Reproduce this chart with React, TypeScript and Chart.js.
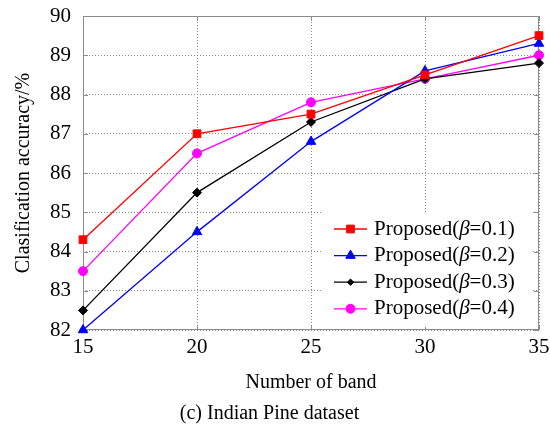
import React, { useEffect, useRef } from "react";
import { Chart, registerables } from "chart.js";
Chart.register(...registerables);

const bands = [15, 20, 25, 30, 35];
const beta01 = [84.3, 87.0, 87.5, 88.5, 89.5];
const beta02 = [82.0, 84.5, 86.8, 88.6, 89.3];
const beta03 = [82.5, 85.5, 87.3, 88.4, 88.8];
const beta04 = [83.5, 86.5, 87.8, 88.4, 89.0];
const betaValues = ["0.1", "0.2", "0.3", "0.4"];
const seriesColors = ["#ff0000", "#0000ff", "#000000", "#ff00ff"];
const seriesMarkers = ["rect", "triangle", "rectRot", "circle"];
const seriesRadius = [5.5, 5.5, 4.5, 4.5];
const xTitle = "Number of band";
const yTitle = "Clasification accuracy/%";
const caption = "(c) Indian Pine dataset";

const FONT = "'Liberation Serif', 'Times New Roman', serif";
const AXIS_GRAY = "#8c8c8c";

const frameAndTicks = {
  id: "frameAndTicks",
  beforeDatasetsDraw(chart: any) {
    const { ctx, chartArea: a, scales } = chart;
    ctx.save();
    ctx.strokeStyle = AXIS_GRAY;
    ctx.lineWidth = 1;
    ctx.setLineDash([]);
    ctx.strokeRect(a.left + 0.5, a.top + 0.5, a.right - a.left - 1, a.bottom - a.top - 1);
    const len = 5;
    ctx.beginPath();
    scales.y.ticks.forEach((t: any) => {
      const y = Math.round(scales.y.getPixelForValue(t.value)) + 0.5;
      ctx.moveTo(a.left, y); ctx.lineTo(a.left + len, y);
      ctx.moveTo(a.right, y); ctx.lineTo(a.right - len, y);
    });
    scales.x.ticks.forEach((t: any) => {
      const x = Math.round(scales.x.getPixelForValue(t.value)) + 0.5;
      ctx.moveTo(x, a.bottom); ctx.lineTo(x, a.bottom - len);
      ctx.moveTo(x, a.top); ctx.lineTo(x, a.top + len);
    });
    ctx.stroke();
    ctx.restore();
  },
};

function drawMarker(ctx: CanvasRenderingContext2D, style: string, r: number, x: number, y: number) {
  ctx.beginPath();
  if (style === "rect") {
    const s = r * Math.SQRT1_2;
    ctx.rect(x - s, y - s, 2 * s, 2 * s);
  } else if (style === "rectRot") {
    const s = r * Math.SQRT1_2;
    ctx.moveTo(x - s, y); ctx.lineTo(x, y + s); ctx.lineTo(x + s, y); ctx.lineTo(x, y - s); ctx.closePath();
  } else if (style === "triangle") {
    const a1 = (2 * Math.PI) / 3;
    ctx.moveTo(x, y - r);
    ctx.lineTo(x + Math.sin(a1) * r, y - Math.cos(a1) * r);
    ctx.lineTo(x + Math.sin(2 * a1) * r, y - Math.cos(2 * a1) * r);
    ctx.closePath();
  } else {
    ctx.arc(x, y, r, 0, Math.PI * 2);
  }
  ctx.fill();
  ctx.stroke();
}

const insideLegend = {
  id: "insideLegend",
  afterDatasetsDraw(chart: any) {
    const { ctx, chartArea: a } = chart;
    ctx.save();
    ctx.fillStyle = "#ffffff";
    ctx.fillRect(a.right - 216, a.bottom - 118, 210, 115);
    const x0 = a.right - 205;
    const lineW = 33;
    const tx = a.right - 165;
    const rowH = 26.6;
    const y0 = a.bottom - 101;
    chart.data.datasets.forEach((ds: any, i: number) => {
      const y = y0 + i * rowH;
      ctx.strokeStyle = ds.borderColor;
      ctx.lineWidth = 1.3;
      ctx.beginPath();
      ctx.moveTo(x0, y);
      ctx.lineTo(x0 + lineW, y);
      ctx.stroke();
      ctx.fillStyle = ds.borderColor;
      ctx.lineWidth = 1;
      drawMarker(ctx, ds.pointStyle, ds.pointRadius, x0 + lineW / 2, y);
      ctx.fillStyle = "#000";
      ctx.textBaseline = "middle";
      ctx.textAlign = "left";
      let x = tx;
      const parts: [string, string][] = [
        ["Proposed(", "normal"],
        ["\u03B2", "italic"],
        ["=" + betaValues[i] + ")", "normal"],
      ];
      parts.forEach(([s, st]) => {
        ctx.font = `${st} 21px ${FONT}`;
        ctx.fillText(s, x, y);
        x += ctx.measureText(s).width;
      });
    });
    ctx.restore();
  },
};

export default function App() {
  const ref = useRef<HTMLCanvasElement>(null);
  useEffect(() => {
    const series = [beta01, beta02, beta03, beta04];
    const chart = new Chart(ref.current!, {
      type: "line",
      data: {
        datasets: series.map((vals, i) => ({
          label: `Proposed(\u03B2=${betaValues[i]})`,
          data: bands.map((b, j) => ({ x: b, y: vals[j] })),
          borderColor: seriesColors[i],
          backgroundColor: seriesColors[i],
          borderWidth: 1.3,
          pointStyle: seriesMarkers[i] as any,
          pointRadius: seriesRadius[i],
          pointBorderWidth: 1,
          tension: 0,
          clip: false as any,
        })),
      },
      options: {
        animation: false,
        responsive: false,
        layout: { padding: { top: 16, right: 11, left: 0, bottom: 0 } },
        plugins: {
          legend: { display: false },
          tooltip: { enabled: false },
          title: {
            display: true,
            position: "bottom",
            text: caption,
            color: "#000",
            font: { family: FONT, size: 20, weight: "normal" },
            padding: { top: 4, bottom: 3 },
          },
        },
        scales: {
          x: {
            type: "linear",
            min: 15,
            max: 35,
            afterFit: (s: any) => {
              s.height = 68;
              s.paddingLeft = 0;
              s.paddingRight = 0;
            },
            ticks: { stepSize: 5, color: "#000", padding: 5, font: { family: FONT, size: 21 } },
            grid: { color: "#8a8a8a", drawTicks: false, lineWidth: 1 },
            border: { display: false, dash: [1, 2] },
            title: {
              display: true,
              text: xTitle,
              color: "#000",
              font: { family: FONT, size: 20 },
              padding: { top: 0, bottom: 3 },
            },
          },
          y: {
            min: 82,
            max: 90,
            afterFit: (s: any) => {
              s.width = 83;
              s.paddingTop = 0;
              s.paddingBottom = 0;
            },
            ticks: { stepSize: 1, color: "#000", padding: 12, font: { family: FONT, size: 21 } },
            grid: { color: "#8a8a8a", drawTicks: false, lineWidth: 1 },
            border: { display: false, dash: [1, 2] },
            title: {
              display: true,
              text: yTitle,
              color: "#000",
              font: { family: FONT, size: 20 },
              padding: { top: 12, bottom: 0 },
            },
          },
        },
      },
      plugins: [frameAndTicks, insideLegend],
    });
    return () => chart.destroy();
  }, []);
  return (
    <div style={{ position: "absolute", left: 0, top: 0, width: 550, height: 429, background: "#fff" }}>
      <canvas ref={ref} width={550} height={429} />
    </div>
  );
}
